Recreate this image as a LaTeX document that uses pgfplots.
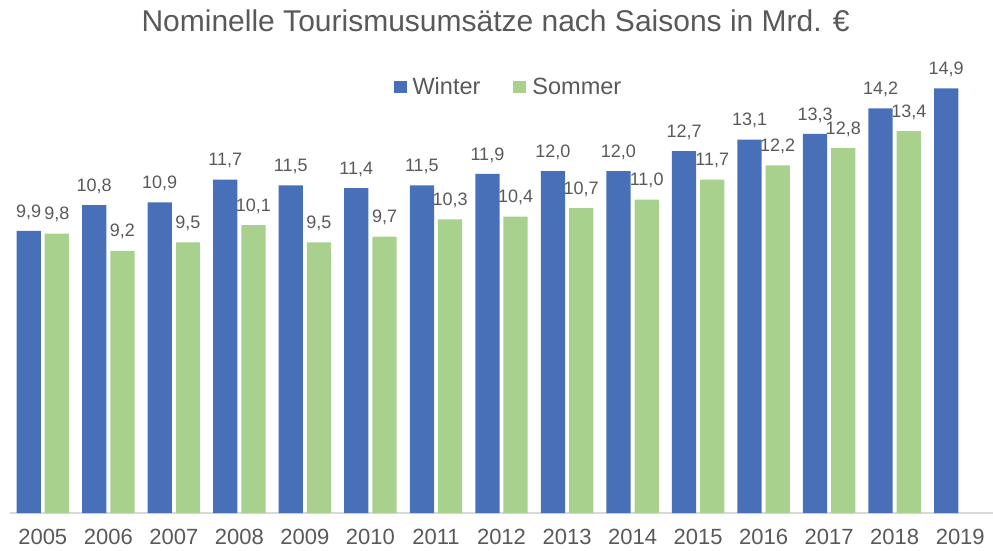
\documentclass[border=0pt]{standalone}
\usepackage{fontspec}
\setmainfont{Liberation Sans}
\usepackage{pgfplots}
\pgfplotsset{compat=1.18}
\definecolor{winterblue}{HTML}{4870B8}
\definecolor{sommergreen}{HTML}{A9D18E}
\definecolor{txtgray}{HTML}{595959}
\definecolor{axgray}{HTML}{D9D9D9}

\begin{document}
\begin{tikzpicture}
\useasboundingbox (-10pt,-37pt) rectangle (983pt,513pt);
\begin{axis}[
    scale only axis,
    width=983pt, height=456pt,
    xmin=-0.5, xmax=14.5,
    ymin=0, ymax=16,
    ybar, bar width=0.37,
    axis y line=none,
    axis x line*=bottom,
    x axis line style={axgray, line width=1.2pt},
    xtick={0,...,14},
    xticklabels={2005,2006,2007,2008,2009,2010,2011,2012,2013,2014,2015,2016,2017,2018,2019},
    major tick length=0pt,
    xticklabel style={font=\fontsize{22}{26}\selectfont, text=txtgray, yshift=-13pt},
    /pgf/number format/assume math mode=true,
    /pgf/number format/.cd, use comma, fixed, fixed zerofill, precision=1,
    /pgfplots/.cd,
    nodes near coords,
    every node near coord/.append style={font=\fontsize{18}{21}\selectfont, text=txtgray, yshift=8pt},
    clip=false,
    title={Nominelle Tourismusumsätze nach Saisons in Mrd. €},
    title style={at={(0.494,1)}, anchor=center, yshift=30pt, font=\fontsize{30}{34}\selectfont, text=txtgray},
    legend columns=2,
    legend style={at={(0.507,0.934)}, anchor=center, draw=none, fill=none,
        font=\fontsize{23.5}{27}\selectfont, text=txtgray,
        /tikz/every even column/.append style={column sep=31pt}},
    legend image code/.code={\fill[#1] (0pt,-6pt) rectangle (13pt,6pt);
        \path (17pt,0pt);},
]
\addplot[fill=winterblue, draw=none, bar shift=-0.215] coordinates {
    (0,9.9)(1,10.8)(2,10.9)(3,11.7)(4,11.5)(5,11.4)(6,11.5)(7,11.9)
    (8,12.0)(9,12.0)(10,12.7)(11,13.1)(12,13.3)(13,14.2)(14,14.9)
};
\addlegendentry{Winter}
\addplot[fill=sommergreen, draw=none, bar shift=0.215] coordinates {
    (0,9.8)(1,9.2)(2,9.5)(3,10.1)(4,9.5)(5,9.7)(6,10.3)(7,10.4)
    (8,10.7)(9,11.0)(10,11.7)(11,12.2)(12,12.8)(13,13.4)
};
\addlegendentry{Sommer}
\end{axis}
\end{tikzpicture}
\end{document}
